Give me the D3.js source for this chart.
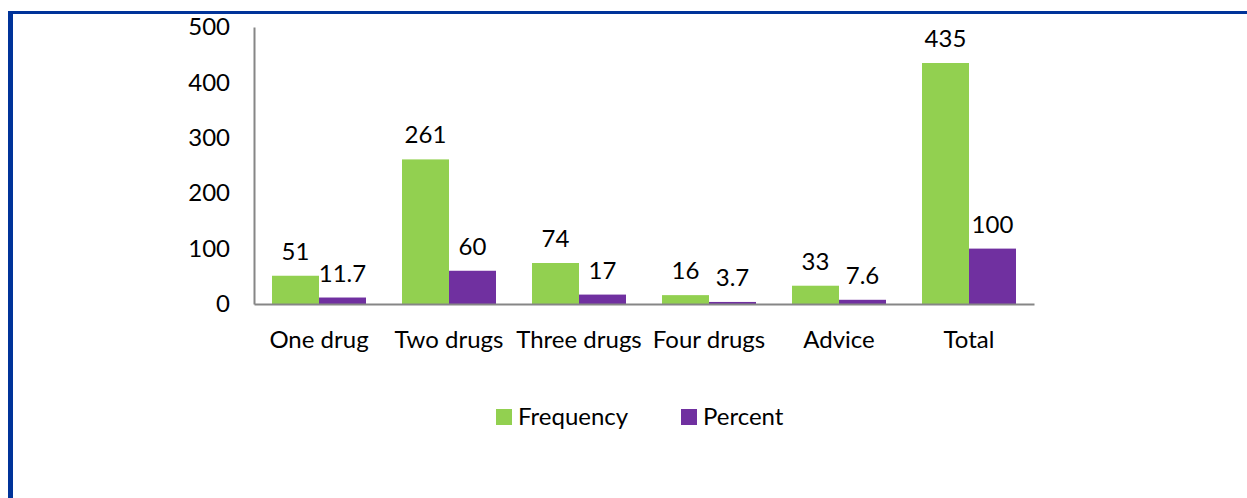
<!DOCTYPE html>
<html>
<head>
<meta charset="utf-8">
<script src="https://cdn.jsdelivr.net/npm/d3@7"></script>
<style>
  body { margin: 0; background: #fff; }
  svg text { font-family: Lato, "Open Sans", sans-serif; fill: #000; }
</style>
</head>
<body>
<svg id="chart-svg" width="1247" height="498"></svg>
<script>
// data
var categories = ["One drug", "Two drugs", "Three drugs", "Four drugs", "Advice", "Total"];
var frequency = [51, 261, 74, 16, 33, 435];
var percent = [11.7, 60, 17, 3.7, 7.6, 100];
var seriesNames = ["Frequency", "Percent"];
var yTicks = [0, 100, 200, 300, 400, 500];
var colors = ["#92d050", "#7030a0"];

var svg = d3.select("#chart-svg");
var fontSize = "24px";

// frame lines (top + left)
svg.append("rect").attr("x", 8).attr("y", 11).attr("width", 1239).attr("height", 3).attr("fill", "#003399");
svg.append("rect").attr("x", 8).attr("y", 11).attr("width", 5).attr("height", 487).attr("fill", "#003399");

var plotLeft = 254, plotRight = 1034, plotTop = 27, plotBottom = 304;

var x0 = d3.scaleBand().domain(categories).range([plotLeft, plotRight]).paddingInner(0.277).paddingOuter(0.1385);
var x1 = d3.scaleBand().domain(seriesNames).range([0, x0.bandwidth()]);
var y = d3.scaleLinear().domain([0, 500]).range([plotBottom, plotTop]);

// y axis
var yAxis = svg.append("g")
    .attr("transform", "translate(" + plotLeft + ",0)")
    .call(d3.axisLeft(y).tickValues(yTicks).tickSize(0).tickPadding(24));
yAxis.select(".domain").attr("stroke", "#868686").attr("stroke-width", 2);
yAxis.selectAll("text").style("font-size", fontSize).attr("font-family", null).attr("fill", null);

var rows = categories.map(function(c, i) {
  return { cat: c, vals: [frequency[i], percent[i]] };
});

var groups = svg.selectAll(".grp")
    .data(rows)
    .enter()
    .append("g")
    .attr("class", "grp")
    .attr("transform", function(d) { return "translate(" + x0(d.cat) + ",0)"; });

groups.selectAll("rect")
    .data(function(d) { return d.vals.map(function(v, j) { return { s: seriesNames[j], v: v, j: j }; }); })
    .enter()
    .append("rect")
    .attr("x", function(d) { return x1(d.s); })
    .attr("y", function(d) { return y(d.v); })
    .attr("width", x1.bandwidth())
    .attr("height", function(d) { return y(0) - y(d.v); })
    .attr("fill", function(d) { return colors[d.j]; });

groups.selectAll(".lbl")
    .data(function(d) { return d.vals.map(function(v, j) { return { s: seriesNames[j], v: v, j: j }; }); })
    .enter()
    .append("text")
    .attr("class", "lbl")
    .attr("x", function(d) { return x1(d.s) + x1.bandwidth() / 2; })
    .attr("y", function(d) { return y(d.v) - 16; })
    .attr("text-anchor", "middle")
    .style("font-size", fontSize)
    .text(function(d) { return d.v; });

// x axis
var xAxis = svg.append("g")
    .attr("transform", "translate(0," + plotBottom + ")")
    .call(d3.axisBottom(x0).tickSize(0).tickPadding(27).tickSizeOuter(0));
xAxis.select(".domain").attr("stroke", "#868686").attr("stroke-width", 2);
xAxis.selectAll("text").style("font-size", fontSize).attr("font-family", null).attr("fill", null);

// legend
var legendX = [496, 681];
var legend = svg.selectAll(".leg")
    .data(seriesNames)
    .enter()
    .append("g")
    .attr("class", "leg")
    .attr("transform", function(d, i) { return "translate(" + legendX[i] + ",409)"; });
legend.append("rect").attr("width", 16).attr("height", 16).attr("fill", function(d, i) { return colors[i]; });
legend.append("text").attr("x", 22).attr("y", 8).attr("dy", "0.35em").style("font-size", fontSize).text(function(d) { return d; });
</script>
</body>
</html>
